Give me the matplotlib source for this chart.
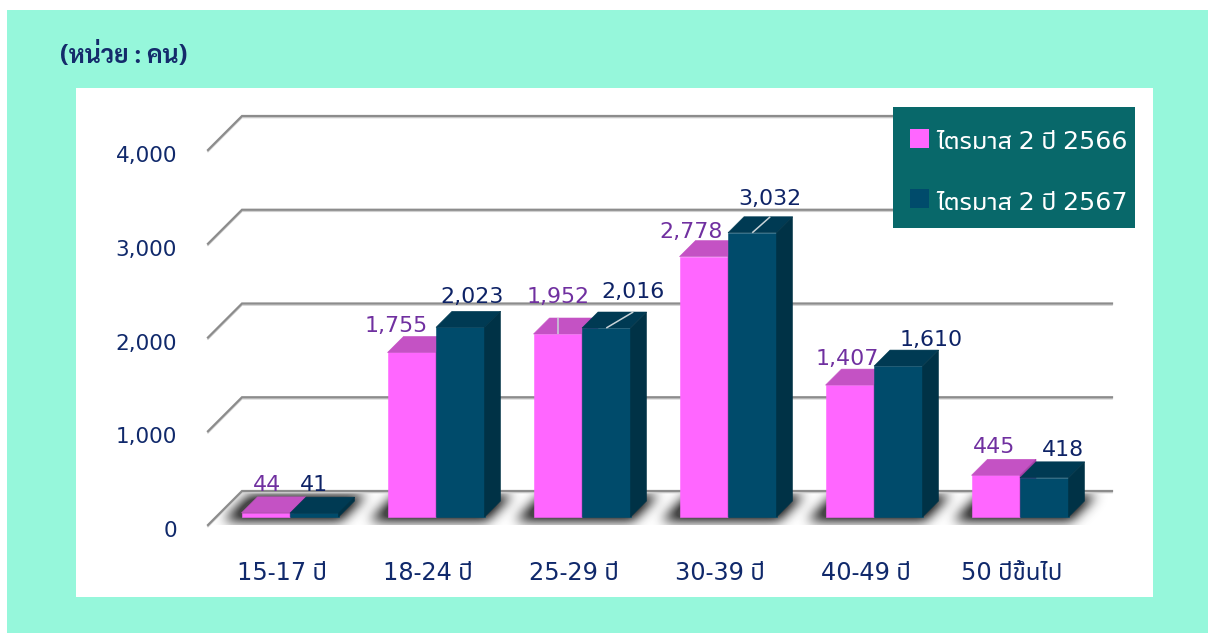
import matplotlib
matplotlib.use('Agg')
import matplotlib.pyplot as plt
from matplotlib.patches import Polygon, Rectangle
from matplotlib import font_manager
import numpy as np

# ---------------- data ----------------
categories = ['15-17 ปี', '18-24 ปี', '25-29 ปี', '30-39 ปี', '40-49 ปี', '50 ปีขึ้นไป']
series_names = ['ไตรมาส 2 ปี 2566', 'ไตรมาส 2 ปี 2567']
values_2566 = [44, 1755, 1952, 2778, 1407, 445]
values_2567 = [41, 2023, 2016, 3032, 1610, 418]
yticks = [0, 1000, 2000, 3000, 4000]
ytick_labels = ['0', '1,000', '2,000', '3,000', '4,000']
unit_label = '(หน่วย : คน)'

# ---------------- fonts ----------------
def thai_fonts():
    names, bold = [], set()
    try:
        from fontTools.ttLib import TTFont
    except Exception:
        return names, bold
    for f in font_manager.fontManager.ttflist:
        try:
            kw = {'fontNumber': 0} if f.fname.lower().endswith(('.ttc', '.otc')) else {}
            tt = TTFont(f.fname, lazy=True, **kw)
            cmap = tt.getBestCmap() or {}
            if 0x0E44 in cmap and 0x0E1B in cmap:
                if f.name not in names:
                    names.append(f.name)
                w = f.weight if isinstance(f.weight, int) else (700 if 'bold' in str(f.weight).lower() else 400)
                if w >= 600:
                    bold.add(f.name)
        except Exception:
            pass
    return names, bold

_found, _bold = thai_fonts()
_pref = ['Tahoma', 'Leelawadee UI', 'Leelawadee', 'Noto Sans Thai UI', 'Noto Sans Thai',
         'Noto Sans Thai Looped', 'Sarabun', 'Loma', 'Garuda', 'Kinnari', 'Norasi']
THAI = next((p for p in _pref if p in _found), _found[0] if _found else None)
THAI_BOLD = next((p for p in _pref if p in _bold), THAI)
FAMILY = [THAI, 'DejaVu Sans'] if THAI else ['DejaVu Sans']
FAMILY_BOLD = [THAI_BOLD, 'DejaVu Sans'] if THAI_BOLD else ['DejaVu Sans']
plt.rcParams['font.family'] = FAMILY

# ---------------- colours ----------------
MINT = '#96F7DB'
PINK_FRONT, PINK_TOP, PINK_SIDE = '#FF66FF', '#C452C4', '#A83FA8'
NAVY_FRONT, NAVY_TOP, NAVY_SIDE = '#004B6B', '#003A53', '#003246'
PINK_TXT = '#7030A0'
NAVY_TXT = '#0E2366'
AXIS_TXT = '#10296B'
GRID = '#8C8C8C'
LEGEND_BG = '#08686A'

# ---------------- layout (pixels) ----------------
W, H = 1208, 633
X0_PX, GROUP_PX = 290.0, 146.0      # centre of first group, group spacing
Y0_PX, PX_PER_UNIT = 517.0, 0.09375  # baseline of bar front faces, px per person
BAR_W_PX, BAR_D_PX = 48.5, 16.0
FRONT_PX, BACK_PX = 8.0, 26.0
WALL_LEFT_PX, WALL_RIGHT_PX = 216.0, 1086.0

fig = plt.figure(figsize=(W / 100, H / 100), dpi=100)
fig.patch.set_facecolor('white')
ax = fig.add_axes([0, 0, 1, 1])
ax.axis('off')
XLIM = ((0 - X0_PX) / GROUP_PX, (W - X0_PX) / GROUP_PX)
YLIM = ((Y0_PX - H) / PX_PER_UNIT, Y0_PX / PX_PER_UNIT)


def dxp(p):
    return p / GROUP_PX


def dyp(p):
    return p / PX_PER_UNIT


def fx(px):
    return px / W


def fy(py):
    return 1 - py / H


# background panels
ax.add_patch(Rectangle((fx(7), 0), 1 - fx(7), fy(10), transform=ax.transAxes,
                       fc=MINT, ec='none', zorder=0))
ax.add_patch(Rectangle((fx(76), fy(597)), fx(1153) - fx(76), fy(88) - fy(597),
                       transform=ax.transAxes, fc='white', ec='none', zorder=0.5))

renderer = fig.canvas.get_renderer()


def fit_size(s, target_px, weight='normal', family=None):
    t = ax.text(0, 0, s, fontsize=10, weight=weight, family=family or FAMILY)
    w = t.get_window_extent(renderer).width
    t.remove()
    return 10.0 * target_px / w


FS_TICK = fit_size('4,000', 61)
FS_VAL = fit_size('2,778', 63)
FS_CAT = fit_size(categories[0], 89)
FS_LEG = fit_size(series_names[0], 191)
FS_TITLE = fit_size(unit_label, 127, 'bold', FAMILY_BOLD)

wl = (WALL_LEFT_PX - X0_PX) / GROUP_PX
wr = (WALL_RIGHT_PX - X0_PX) / GROUP_PX
n = len(categories)
bw = dxp(BAR_W_PX)

# ---- soft floor shadows under each cluster (blurred footprint image) ----
sx0, sx1, sy0, sy1 = 180, 1150, 470, 545
xs = np.arange(sx0, sx1) + 0.5
ys = np.arange(sy0, sy1) + 0.5
XX, YY = np.meshgrid(xs, ys)
mask = np.zeros_like(XX)
for i in range(n):
    cxp = X0_PX + GROUP_PX * i
    xl_p, xr_p = cxp - BAR_W_PX - 14, cxp + BAR_W_PX + 6
    inside = ((YY >= Y0_PX - BAR_D_PX - 6) & (YY <= Y0_PX + 4) &
              (XX >= xl_p + (Y0_PX - YY)) & (XX <= xr_p + (Y0_PX - YY)))
    mask[inside] = 1.0
sig = 6.0
kx = np.arange(-20, 21)
kern = np.exp(-kx ** 2 / (2 * sig ** 2))
kern /= kern.sum()
mask = np.apply_along_axis(lambda r: np.convolve(r, kern, mode='same'), 1, mask)
mask = np.apply_along_axis(lambda c: np.convolve(c, kern, mode='same'), 0, mask)
floor = ((YY >= Y0_PX - BACK_PX) & (YY <= Y0_PX + FRONT_PX) &
         (XX >= WALL_LEFT_PX - FRONT_PX + (Y0_PX + FRONT_PX - YY)))
alpha = np.clip(mask * 1.4, 0, 1) * 0.8 * floor
img = np.zeros(mask.shape + (4,))
img[..., 0:3] = 0.1
img[..., 3] = alpha
ax.imshow(img, extent=[(sx0 - X0_PX) / GROUP_PX, (sx1 - X0_PX) / GROUP_PX,
                       (Y0_PX - sy1) / PX_PER_UNIT, (Y0_PX - sy0) / PX_PER_UNIT],
          origin='upper', interpolation='bilinear', zorder=1, aspect='auto')
ax.set_xlim(*XLIM)
ax.set_ylim(*YLIM)

# gridlines (back wall + left diagonal)
for v, lab in zip(yticks, ytick_labels):
    xf, yf = wl - dxp(FRONT_PX), v - dyp(FRONT_PX)
    xb, yb = wl + dxp(BACK_PX), v + dyp(BACK_PX)
    xe = wr + dxp(BACK_PX)
    ax.plot([xf, xb, xe], [yf - dyp(1.5), yb - dyp(1.5), yb - dyp(1.5)], color='#D0D0D0',
            lw=1.2, solid_joinstyle='miter', zorder=2)
    ax.plot([xf, xb, xe], [yf, yb, yb], color=GRID, lw=1.6, solid_joinstyle='miter', zorder=2.1)
    ax.text(xf - dxp(31), yf - dyp(12), lab, ha='right', va='baseline',
            fontsize=FS_TICK, color=AXIS_TXT, zorder=3)


def bar3d(x_left, v, front, top, side, z):
    xr = x_left + bw
    d = BAR_D_PX
    kw = dict(closed=True, lw=0.4, zorder=z)
    ax.add_patch(Polygon([(x_left, 0), (xr, 0), (xr, v), (x_left, v)], fc=front, ec=front, **kw))
    ax.add_patch(Polygon([(x_left, v), (xr, v), (xr + dxp(d), v + dyp(d)),
                          (x_left + dxp(d), v + dyp(d))], fc=top, ec=top, **kw))
    ax.add_patch(Polygon([(xr, 0), (xr, v), (xr + dxp(d), v + dyp(d)),
                          (xr + dxp(d), dyp(d))], fc=side, ec=side, **kw))


# label nudges (px): horizontal from bar centre, baseline height above bar front top
pink_dx = [1, -16, 0, -13, -2, -2]
pink_dy = [22, 20.5, 31, 18.6, 20, 22]
navy_dx = [0, 12, 27, 18, 33, 19]
navy_dy = [22, 24, 30, 28, 20, 22]
pink_leader = [False, False, True, False, False, False]
navy_leader = [False, False, True, True, False, False]

for i in range(n):
    series = [(i - bw, values_2566[i], PINK_FRONT, PINK_TOP, PINK_SIDE, PINK_TXT,
               pink_dx[i], pink_dy[i], pink_leader[i]),
              (i, values_2567[i], NAVY_FRONT, NAVY_TOP, NAVY_SIDE, NAVY_TXT,
               navy_dx[i], navy_dy[i], navy_leader[i])]
    for j, (xl, v, fc, tc, sc, txc, ldx, ldy, lead) in enumerate(series):
        z = 5 + 2 * i + j
        bar3d(xl, v, fc, tc, sc, z)
        cx = xl + bw / 2
        lx = cx + dxp(ldx)
        if lead:
            ax.plot([cx, lx], [v, v + dyp(BAR_D_PX)], color='#C9D3D8', lw=1.1,
                    zorder=z + 0.5, solid_capstyle='butt')
        ax.text(lx, v + dyp(ldy), f'{v:,}', ha='center', va='baseline',
                fontsize=FS_VAL, color=txc, zorder=30)

# category labels
for i, c in enumerate(categories):
    ax.text(i + dxp(-8), -dyp(63), c, ha='center', va='baseline',
            fontsize=FS_CAT, color=AXIS_TXT, zorder=3)

# unit label
ax.text(fx(60), fy(63), unit_label, transform=ax.transAxes, ha='left', va='baseline',
        fontsize=FS_TITLE, fontweight='bold', family=FAMILY_BOLD, color='#142B6B', zorder=3)

# legend
ax.add_patch(Rectangle((fx(893), fy(228)), fx(1135) - fx(893), fy(107) - fy(228),
                       transform=ax.transAxes, fc=LEGEND_BG, ec='none', zorder=40))
for k, (name, col, ytop, base) in enumerate([(series_names[0], PINK_FRONT, 129, 149),
                                               (series_names[1], NAVY_FRONT, 189, 210)]):
    ax.add_patch(Rectangle((fx(910), fy(ytop + 19)), fx(929) - fx(910), fy(ytop) - fy(ytop + 19),
                           transform=ax.transAxes, fc=col, ec='none', zorder=41))
    ax.text(fx(936), fy(base), name, transform=ax.transAxes, ha='left', va='baseline',
            fontsize=FS_LEG, color='white', zorder=42)

fig.savefig('out.png', dpi=100, facecolor='white')
